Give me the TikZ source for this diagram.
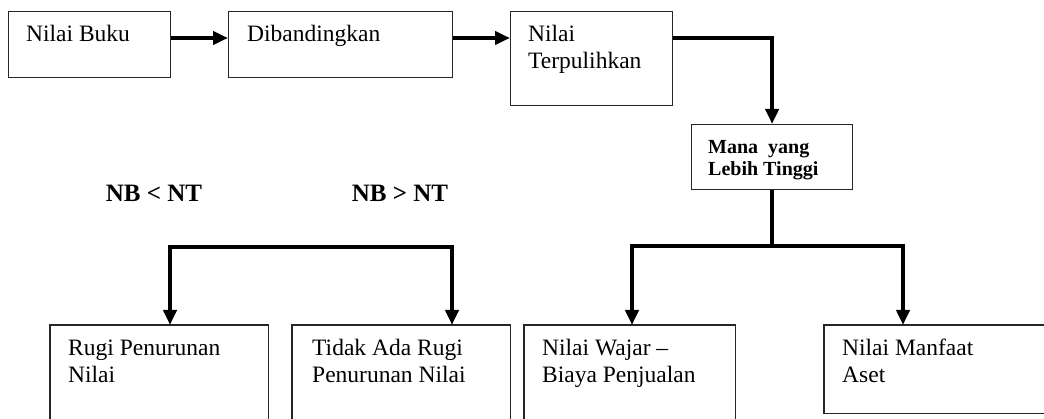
\documentclass[tikz,border=0pt]{standalone}
\usepackage{fontspec}
\setmainfont{Liberation Serif}
\usetikzlibrary{arrows.meta,calc}
\begin{document}
\begin{tikzpicture}[x=1pt,y=-1pt,
  box/.style={draw=black!85, line width=1.2pt, rectangle, anchor=north west, inner sep=0pt},
  obox/.style={rectangle, anchor=north west, inner sep=0pt},
  edge/.style={draw=black!85, line width=1.2pt},
  txt/.style={anchor=north west, align=left, inner sep=0pt, font=\fontsize{23.5}{27.5}\selectfont},
  btxt/.style={anchor=north west, align=left, inner sep=0pt, font=\fontsize{20}{22}\selectfont\bfseries},
  lab/.style={anchor=base, inner sep=0pt, font=\fontsize{25}{28}\selectfont\bfseries},
  conn/.style={line width=4pt, line join=miter, -{Triangle[length=15pt,width=13pt]}},
  line/.style={line width=4pt, line join=miter},
  biconn/.style={line width=4pt, line join=miter, {Triangle[length=15pt,width=13pt]}-{Triangle[length=15pt,width=13pt]}}
]
\useasboundingbox[fill=white] (0,0) rectangle (1044,419);

% boxes
\node[box, minimum width=162, minimum height=66] (b1) at (8,11) {};
\node[box, minimum width=224, minimum height=66] (b2) at (228,11) {};
\node[box, minimum width=162, minimum height=94] (b3) at (510,11) {};
\node[box, minimum width=161, minimum height=65] (b4) at (691,124) {};
\node[obox, minimum width=218, minimum height=94] (b5) at (50,325) {};
\node[obox, minimum width=218, minimum height=94] (b6) at (292,325) {};
\node[obox, minimum width=211, minimum height=94] (b7) at (524,325) {};
\node[obox, minimum width=220, minimum height=88] (b8) at (824,325) {};
\draw[edge] (b5.south west) -- (b5.north west) -- (b5.north east) -- (b5.south east);
\draw[edge] (b6.south west) -- (b6.north west) -- (b6.north east) -- (b6.south east);
\draw[edge] (b7.south west) -- (b7.north west) -- (b7.north east) -- (b7.south east);
\draw[edge] (b8.north east) -- (b8.north west) -- (b8.south west) -- (b8.south east);

% texts
\node[txt] (t1) at ($(b1.north west)+(18,11)$) {\strut Nilai Buku};
\node[txt] (t2) at ($(b2.north west)+(19,11)$) {\strut Dibandingkan};
\node[txt] (t3) at ($(b3.north west)+(18,11)$) {\strut Nilai\\Terpulihkan};
\node[btxt] (t4) at ($(b4.north west)+(17,13.6)$) {\strut Mana\ \ yang\\Lebih Tinggi};
\node[txt] (t5) at ($(b5.north west)+(18,11)$) {\strut Rugi Penurunan\\Nilai};
\node[txt] (t6) at ($(b6.north west)+(20,11)$) {\strut Tidak Ada Rugi\\Penurunan Nilai};
\node[txt] (t7) at ($(b7.north west)+(18,11)$) {\strut Nilai Wajar --\\Biaya Penjualan};
\node[txt] (t8) at ($(b8.north west)+(18,11)$) {\strut Nilai Manfaat\\Aset};

% labels
\node[lab] (l1) at (154,202) {NB < NT};
\node[lab] (l2) at (400,202) {NB > NT};

% top connectors
\draw[conn] ($(b1.north east)+(0,27)$) -- ($(b2.north west)+(0,27)$);
\draw[conn] ($(b2.north east)+(0,27)$) -- ($(b3.north west)+(0,27)$);
\draw[conn] ($(b3.north east)+(0,27)$) -| (b4.north);

% right tree
\coordinate (rj) at ($(b4.south)+(0,57)$);
\coordinate (rL) at (632,246);
\coordinate (rR) at (903,246);
\draw[line] (b4.south) -- (rj);
\draw[biconn] (rL |- b7.north) -- (rL) -- (rR) -- (rR |- b8.north);

% left tree
\coordinate (lL) at (170,247);
\coordinate (lR) at (452,247);
\draw[biconn] (lL |- b5.north) -- (lL) -- (lR) -- (lR |- b6.north);
\end{tikzpicture}
\end{document}
